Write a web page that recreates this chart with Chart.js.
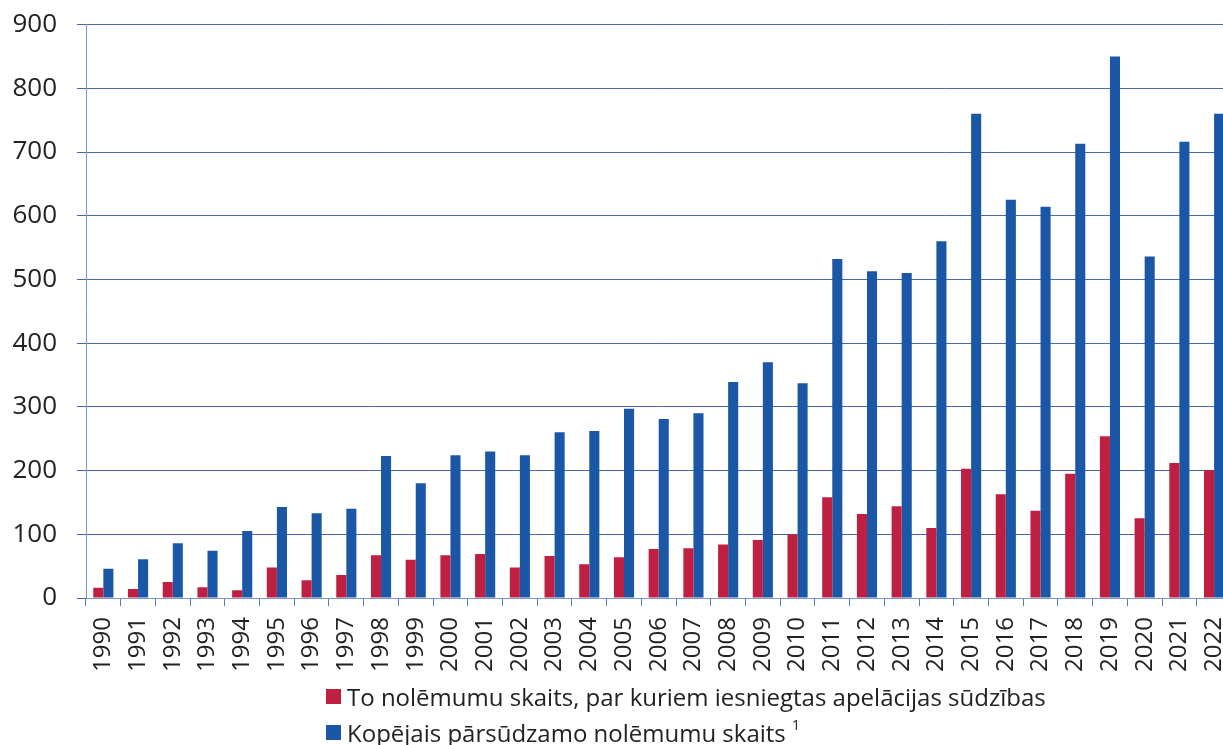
<!DOCTYPE html>
<html>
<head>
<meta charset="utf-8">
<script src="https://cdn.jsdelivr.net/npm/chart.js@4"></script>
<style>
  html, body { margin: 0; padding: 0; background: #fff; overflow: hidden; width: 1223px; height: 745px; }
  #wrap { position: absolute; left: 0; top: -11px; }
  #legend { position: absolute; left: 326px; top: 678px; font-family: "Open Sans", sans-serif; font-size: 24px; color: #222; }
  .item { display: flex; align-items: center; height: 36px; white-space: nowrap; }
  .box { width: 15px; height: 15px; margin-right: 6px; }
  sup { font-size: 14px; position: relative; top: -3px; }
</style>
</head>
<body>
<div id="wrap"><canvas id="chart" width="1254" height="691"></canvas></div>
<div id="legend"></div>
<script>
// Gadi
const years = ['1990', '1991', '1992', '1993', '1994', '1995', '1996', '1997', '1998', '1999',
  '2000', '2001', '2002', '2003', '2004', '2005', '2006', '2007', '2008', '2009', '2010',
  '2011', '2012', '2013', '2014', '2015', '2016', '2017', '2018', '2019', '2020', '2021', '2022'];

// Pārsūdzētie nolēmumi
const appealed = [16, 14, 25, 17, 12, 48, 28, 36, 67, 60, 67, 69, 48, 66, 53, 64, 77, 78, 84, 91, 100,
  158, 132, 144, 110, 203, 163, 137, 195, 254, 125, 212, 201];

// Kopējais pārsūdzamo nolēmumu skaits
const total = [46, 61, 86, 74, 105, 143, 133, 140, 223, 180, 224, 230, 224, 260, 262, 297, 281, 290, 339, 370, 337,
  532, 513, 510, 560, 760, 625, 614, 713, 850, 536, 716, 760];

const yTicks = [0, 100, 200, 300, 400, 500, 600, 700, 800, 900];

const labelRed = 'To nolēmumu skaits, par kuriem iesniegtas apelācijas sūdzības';
const labelBlue = 'Kopējais pārsūdzamo nolēmumu skaits';
const red = '#bf1f40';
const blue = '#1b57a7';

const ctx = document.getElementById('chart').getContext('2d');
new Chart(ctx, {
  type: 'bar',
  data: {
    labels: years,
    datasets: [
      { label: labelRed, data: appealed, backgroundColor: red, barPercentage: 1, categoryPercentage: 0.58 },
      { label: labelBlue, data: total, backgroundColor: blue, barPercentage: 1, categoryPercentage: 0.58 }
    ]
  },
  options: {
    responsive: false,
    devicePixelRatio: 1,
    animation: false,
    layout: { padding: { top: 15, right: 8, left: 0, bottom: 0 } },
    plugins: {
      legend: { display: false },
      tooltip: { enabled: false }
    },
    scales: {
      x: {
        offset: true,
        grid: { offset: true, drawOnChartArea: false, tickLength: 8, color: '#5c79bf' },
        border: { color: '#7b96cf' },
        ticks: {
          autoSkip: false, minRotation: 90, maxRotation: 90, padding: 11,
          color: '#222', font: { family: 'Open Sans', size: 24 }
        },
        afterFit: (s) => { s.height = 82; }
      },
      y: {
        min: 0, max: 900,
        afterBuildTicks: (s) => { s.ticks = yTicks.map(v => ({ value: v })); },
        grid: { color: '#4a66ae', tickLength: 9 },
        border: { color: '#7b96cf' },
        ticks: { padding: 20, color: '#222', font: { family: 'Open Sans', size: 26 } },
        afterFit: (s) => { s.width = 86; }
      }
    }
  }
});

// HTML leģenda
const legend = document.getElementById('legend');
[[red, labelRed, ''], [blue, labelBlue, ' <sup>1</sup>']].forEach(([c, t, s]) => {
  const row = document.createElement('div');
  row.className = 'item';
  row.innerHTML = '<span class="box" style="background:' + c + '"></span><span>' + t + s + '</span>';
  legend.appendChild(row);
});
</script>
</body>
</html>
